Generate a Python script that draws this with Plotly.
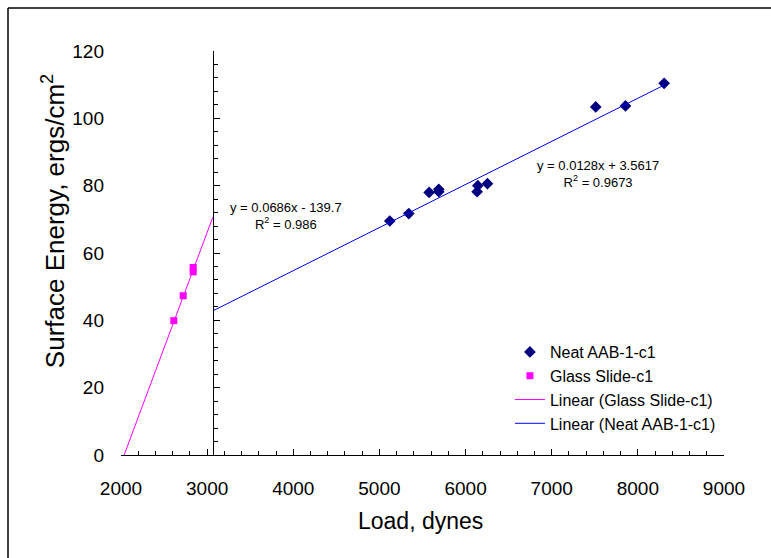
import numpy as np
import plotly.graph_objects as go

# ---- data ----
neat_x = [5120, 5341, 5577, 5689, 5689, 6142, 6134, 6254, 7511, 7856, 8305]
neat_y = [69.5, 71.7, 78.0, 78.9, 78.2, 80.0, 78.2, 80.6, 103.4, 103.7, 110.4]
glass_x = [2613, 2722, 2838, 2838]
glass_y = [39.9, 47.3, 55.7, 54.4]

# trend line coefficients (as printed on the chart)
glass_slope, glass_icpt, glass_r2 = 0.0686, -139.7, 0.986
neat_slope, neat_icpt, neat_r2 = 0.0128, 3.5617, 0.9673

x_ticks = [2000, 3000, 4000, 5000, 6000, 7000, 8000, 9000]
y_ticks = [0, 20, 40, 60, 80, 100, 120]

AXIS_CROSS_X = 3067  # where the vertical axis crosses the horizontal one

FONT = "Liberation Sans, Arial, sans-serif"

# trend line extents
gx = np.array([-glass_icpt / glass_slope, AXIS_CROSS_X])
gy = glass_slope * gx + glass_icpt
nx = np.array([AXIS_CROSS_X, max(neat_x)])
ny = neat_slope * nx + neat_icpt

fig = go.Figure()
fig.add_trace(go.Scatter(x=neat_x, y=neat_y, mode="markers", name="Neat AAB-1-c1",
                         legendgroup="a",
                         marker=dict(symbol="diamond", size=9, color="#000080")))
fig.add_trace(go.Scatter(x=glass_x, y=glass_y, mode="markers", name="Glass Slide-c1",
                         legendgroup="b",
                         marker=dict(symbol="square", size=7, color="#FF00FF")))
fig.add_trace(go.Scatter(x=gx, y=gy, mode="lines", name="Linear (Glass Slide-c1)",
                         legendgroup="c", yaxis="y2",
                         line=dict(color="#FF00FF", width=1)))
fig.add_trace(go.Scatter(x=nx, y=ny, mode="lines", name="Linear (Neat AAB-1-c1)",
                         legendgroup="d", yaxis="y2",
                         line=dict(color="#0000FF", width=1)))

xr = [2000, 9000]
yr = [0, 120]
pos = (AXIS_CROSS_X - xr[0]) / (xr[1] - xr[0])

fig.update_layout(
    width=771, height=558,
    margin=dict(l=121, r=47, t=51, b=103, pad=0),
    paper_bgcolor="white", plot_bgcolor="white",
    font=dict(family=FONT, color="black"),
    showlegend=True,
    legend=dict(x=0.645, y=0.297, xanchor="left", yanchor="top",
                bgcolor="rgba(0,0,0,0)", font=dict(size=16, family=FONT),
                tracegroupgap=0, traceorder="grouped"),
    xaxis=dict(range=xr, tickvals=x_ticks, showgrid=False, zeroline=False,
               showline=True, linecolor="black", linewidth=1,
               ticks="inside", ticklen=6, tickcolor="black",
               minor=dict(dtick=200, tick0=2000, ticks="inside", ticklen=4, tickcolor="black"),
               tickfont=dict(size=19, family=FONT), ticklabelstandoff=16),
    yaxis=dict(range=yr, tickvals=y_ticks, showgrid=False, zeroline=False,
               showline=False, ticks="",
               tickfont=dict(size=19, family=FONT), ticklabelstandoff=16),
    yaxis2=dict(range=yr, overlaying="y", anchor="free", position=pos, side="left",
                showgrid=False, zeroline=False, showline=True, linecolor="black", linewidth=1,
                tickvals=y_ticks, ticks="inside", ticklen=6, tickcolor="black",
                minor=dict(dtick=4, tick0=0, ticks="inside", ticklen=4, tickcolor="black"),
                showticklabels=False),
)

# equation labels
fig.add_annotation(x=3915, y=71,
                   text=f"y = {glass_slope}x - {abs(glass_icpt)}<br>R<sup>2</sup> = {glass_r2}",
                   showarrow=False, font=dict(size=13, family=FONT), align="center")
fig.add_annotation(x=7543, y=83.6,
                   text=f"y = {neat_slope}x + {neat_icpt}<br>R<sup>2</sup> = {neat_r2}",
                   showarrow=False, font=dict(size=13, family=FONT), align="center")

# axis titles
fig.add_annotation(xref="paper", yref="paper", x=0.4975, y=-0.163,
                   text="Load, dynes", showarrow=False,
                   font=dict(size=23, family=FONT), xanchor="center", yanchor="middle")
fig.add_annotation(xref="paper", yref="paper", x=-0.112, y=0.58,
                   text="Surface Energy, ergs/cm<sup>2</sup>", showarrow=False, textangle=-90,
                   font=dict(size=26, family=FONT), xanchor="center", yanchor="middle")

# chart frame (left and top edges visible)
fig.add_shape(type="line", xref="paper", yref="paper",
              x0=(8 - 121) / 603, x1=(771 - 121) / 603, y0=(455 - 8) / 404, y1=(455 - 8) / 404,
              line=dict(color="black", width=1.5))
fig.add_shape(type="line", xref="paper", yref="paper",
              x0=(8 - 121) / 603, x1=(8 - 121) / 603, y0=(455 - 8) / 404, y1=(455 - 558) / 404,
              line=dict(color="black", width=1.5))

fig.write_html("out.html")
